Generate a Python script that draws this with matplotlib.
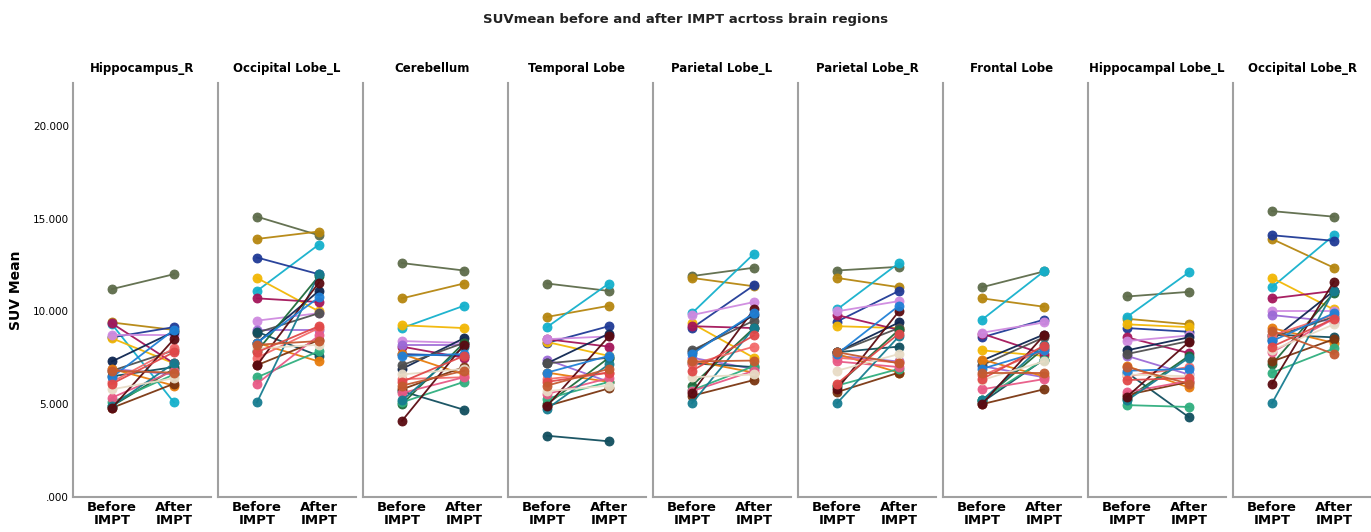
import matplotlib
matplotlib.use("Agg")
import matplotlib.pyplot as plt
import numpy as np

# regions (panel order)
regions = ["Hippocampus_R", "Occipital Lobe_L", "Cerebellum", "Temporal Lobe",
           "Parietal Lobe_L", "Parietal Lobe_R", "Frontal Lobe",
           "Hippocampal Lobe_L", "Occipital Lobe_R"]
timepoints = ["Before\nIMPT", "After\nIMPT"]

# subject colours
subjects = ["olive", "goldbrown", "cyan", "darkblue", "gold", "crimson", "violet",
            "purple", "navy", "gray", "darkteal", "orange", "darkgreen", "salmon",
            "brown", "greenteal", "pink", "teal", "maroon", "beige", "blue", "red", "rust"]
colors = ["#5d6b4a", "#b5860f", "#14b0cc", "#1f3a96", "#f2b705", "#a3155a", "#cf8ae0",
          "#9c6ad6", "#0d2550", "#505050", "#114e5e", "#e77c0c", "#1d6a3a", "#f36a6a",
          "#7a3510", "#2fae7e", "#e85a86", "#167c90", "#5a0a10", "#e8dcc6", "#1f80d6",
          "#e04848", "#c45a30"]

# SUVmean before / after, one row per subject (same order as subjects)
hippocampus_r_before = [11.2, 9.4, 9.3, 8.6, 8.55, 9.35, 8.7, 6.9, 7.3, 6.8, 6.5, 6.9, 4.9, 6.2,
                        4.8, 5.1, 5.35, 4.9, 4.8, 5.8, 6.45, 6.1, 6.8]
hippocampus_r_after = [12.0, 9.0, 5.1, 9.15, 7.2, 7.2, 8.7, 6.6, 8.9, 7.9, 7.0, 6.0, 6.9, 8.0,
                       6.1, 6.6, 6.8, 7.2, 8.5, 6.4, 9.0, 7.8, 6.7]
occipital_l_before = [15.1, 13.9, 11.1, 12.9, 11.8, 10.7, 9.5, 9.0, 8.3, 8.85, 8.9, 8.3, 7.85,
                      7.5, 7.1, 6.45, 6.1, 5.1, 7.1, 8.0, 8.3, 7.8, 8.2]
occipital_l_after = [14.1, 14.3, 13.6, 12.0, 10.0, 10.5, 9.9, 9.0, 11.1, 9.9, 7.6, 7.3, 11.9,
                     9.1, 8.45, 7.85, 8.7, 12.0, 11.55, 8.2, 10.75, 9.2, 8.4]
cerebellum_before = [12.6, 10.7, 9.1, 7.7, 9.25, 8.1, 8.4, 8.2, 6.9, 7.1, 5.7, 7.7, 5.0, 6.35,
                     5.8, 5.1, 5.6, 5.2, 4.1, 6.6, 7.6, 6.2, 6.0]
cerebellum_after = [12.2, 11.5, 10.3, 7.6, 9.1, 7.5, 8.3, 8.2, 8.55, 8.3, 4.7, 6.6, 8.3, 6.45,
                    7.0, 6.2, 6.45, 8.1, 8.2, 6.9, 7.7, 7.6, 6.8]
temporal_before = [11.5, 9.7, 9.15, 8.3, 8.35, 8.5, 8.5, 7.4, 7.2, 7.2, 3.3, 6.7, 5.0, 6.35,
                   4.9, 5.3, 5.55, 4.75, 4.9, 5.7, 6.7, 6.2, 6.0]
temporal_after = [11.1, 10.3, 11.5, 9.2, 7.6, 8.1, 8.65, 6.2, 8.8, 7.5, 3.0, 6.2, 7.5, 6.7,
                  5.85, 6.2, 6.4, 7.15, 8.65, 6.0, 7.6, 6.7, 6.9]
parietal_l_before = [11.9, 11.8, 9.9, 9.1, 9.35, 9.2, 9.8, 7.5, 7.8, 7.9, 7.2, 7.35, 6.0, 7.15,
                     5.45, 5.75, 5.7, 5.05, 5.6, 6.45, 7.7, 6.8, 7.3]
parietal_l_after = [12.35, 11.35, 13.1, 11.4, 7.5, 9.1, 10.5, 6.9, 9.8, 9.5, 7.0, 6.7, 9.1, 8.1,
                    6.3, 7.05, 6.8, 9.1, 10.1, 6.6, 9.9, 8.7, 7.35]
parietal_r_before = [12.2, 11.8, 10.1, 9.45, 9.2, 9.8, 10.0, 7.6, 7.8, 7.8, 7.8, 7.7, 6.0, 7.5,
                     5.65, 6.0, 7.3, 5.05, 5.8, 6.8, 7.7, 6.1, 7.8]
parietal_r_after = [12.4, 11.3, 12.6, 11.1, 9.1, 9.0, 10.55, 7.3, 9.4, 9.1, 8.1, 6.7, 9.0, 7.25,
                    6.7, 6.9, 7.0, 8.65, 10.0, 7.7, 10.3, 8.8, 7.2]
frontal_before = [11.3, 10.7, 9.55, 8.6, 7.9, 8.8, 8.85, 7.05, 7.35, 7.1, 5.1, 7.4, 5.2, 6.55,
                  5.0, 5.25, 5.8, 5.2, 5.0, 6.3, 6.9, 6.35, 6.7]
frontal_after = [12.15, 10.25, 12.15, 9.55, 7.6, 7.7, 9.4, 6.45, 8.75, 8.6, 7.4, 6.5, 8.0, 7.9,
                 5.8, 7.4, 6.35, 8.2, 8.7, 7.3, 7.9, 8.15, 6.7]
hippocampal_l_before = [10.8, 9.6, 9.7, 9.1, 9.3, 8.6, 8.4, 7.6, 7.9, 7.7, 6.7, 7.05, 5.3, 6.5,
                        5.5, 4.95, 5.65, 5.2, 5.4, 6.6, 6.8, 6.3, 7.0]
hippocampal_l_after = [11.05, 9.3, 12.1, 8.9, 9.15, 7.75, 8.7, 6.6, 8.6, 8.4, 4.3, 5.9, 7.6,
                       7.0, 6.2, 4.85, 6.25, 7.5, 8.35, 6.5, 6.9, 6.4, 6.1]
occipital_r_before = [15.4, 13.9, 11.3, 14.1, 11.8, 10.7, 10.0, 9.8, 8.45, 8.6, 8.75, 9.1, 7.15,
                      8.7, 7.3, 6.7, 7.8, 5.05, 6.1, 7.9, 8.4, 8.1, 8.95]
occipital_r_after = [15.1, 12.35, 14.1, 13.8, 10.1, 11.1, 10.0, 9.45, 11.1, 9.7, 8.6, 8.3, 11.0,
                     9.8, 8.5, 8.0, 9.6, 11.1, 11.6, 9.3, 9.9, 9.6, 7.7]

before = [hippocampus_r_before, occipital_l_before, cerebellum_before, temporal_before,
          parietal_l_before, parietal_r_before, frontal_before, hippocampal_l_before,
          occipital_r_before]
after = [hippocampus_r_after, occipital_l_after, cerebellum_after, temporal_after,
         parietal_l_after, parietal_r_after, frontal_after, hippocampal_l_after,
         occipital_r_after]

W, H = 1371, 532
fig = plt.figure(figsize=(W / 100, H / 100), dpi=100)

spine_col = "#a0a0a0"
x0, pitch, pw = 73, 145, 138
ybot, ytop = 497, 83

for i, reg in enumerate(regions):
    ax = fig.add_axes([(x0 + i * pitch) / W, (H - ybot) / H, pw / W, (ybot - ytop) / H])
    for j in range(len(subjects)):
        ax.plot([0, 1], [before[i][j], after[i][j]], "-o", color=colors[j], lw=1.3,
                ms=6.5, mec=colors[j], mew=0.6, alpha=0.95, zorder=2 + j * 0.01)
    ax.set_xlim(-0.63, 1.6)
    ax.set_ylim(0, 22.3)
    ax.set_xticks([0, 1])
    ax.set_xticklabels(timepoints, fontsize=9.5, fontweight="bold", linespacing=0.95)
    ax.set_yticks([0, 5, 10, 15, 20])
    if i == 0:
        ax.set_yticklabels([".000", "5.000", "10.000", "15.000", "20.000"], fontsize=7.5)
        ax.set_ylabel("SUV Mean", fontsize=10, fontweight="bold", labelpad=7)
    else:
        ax.set_yticklabels([])
    ax.tick_params(length=0, pad=3)
    for s in ["top", "right"]:
        ax.spines[s].set_visible(False)
    for s in ["left", "bottom"]:
        ax.spines[s].set_color(spine_col)
        ax.spines[s].set_linewidth(1.5)
    ax.set_title(reg, fontsize=8.5, fontweight="bold", pad=8)

fig.text(0.5, 1 - 19 / H, "SUVmean before and after IMPT acrtoss brain regions",
         ha="center", va="center", fontsize=9.5, fontweight="bold", color="#222222")

fig.savefig("out.png", dpi=100)
